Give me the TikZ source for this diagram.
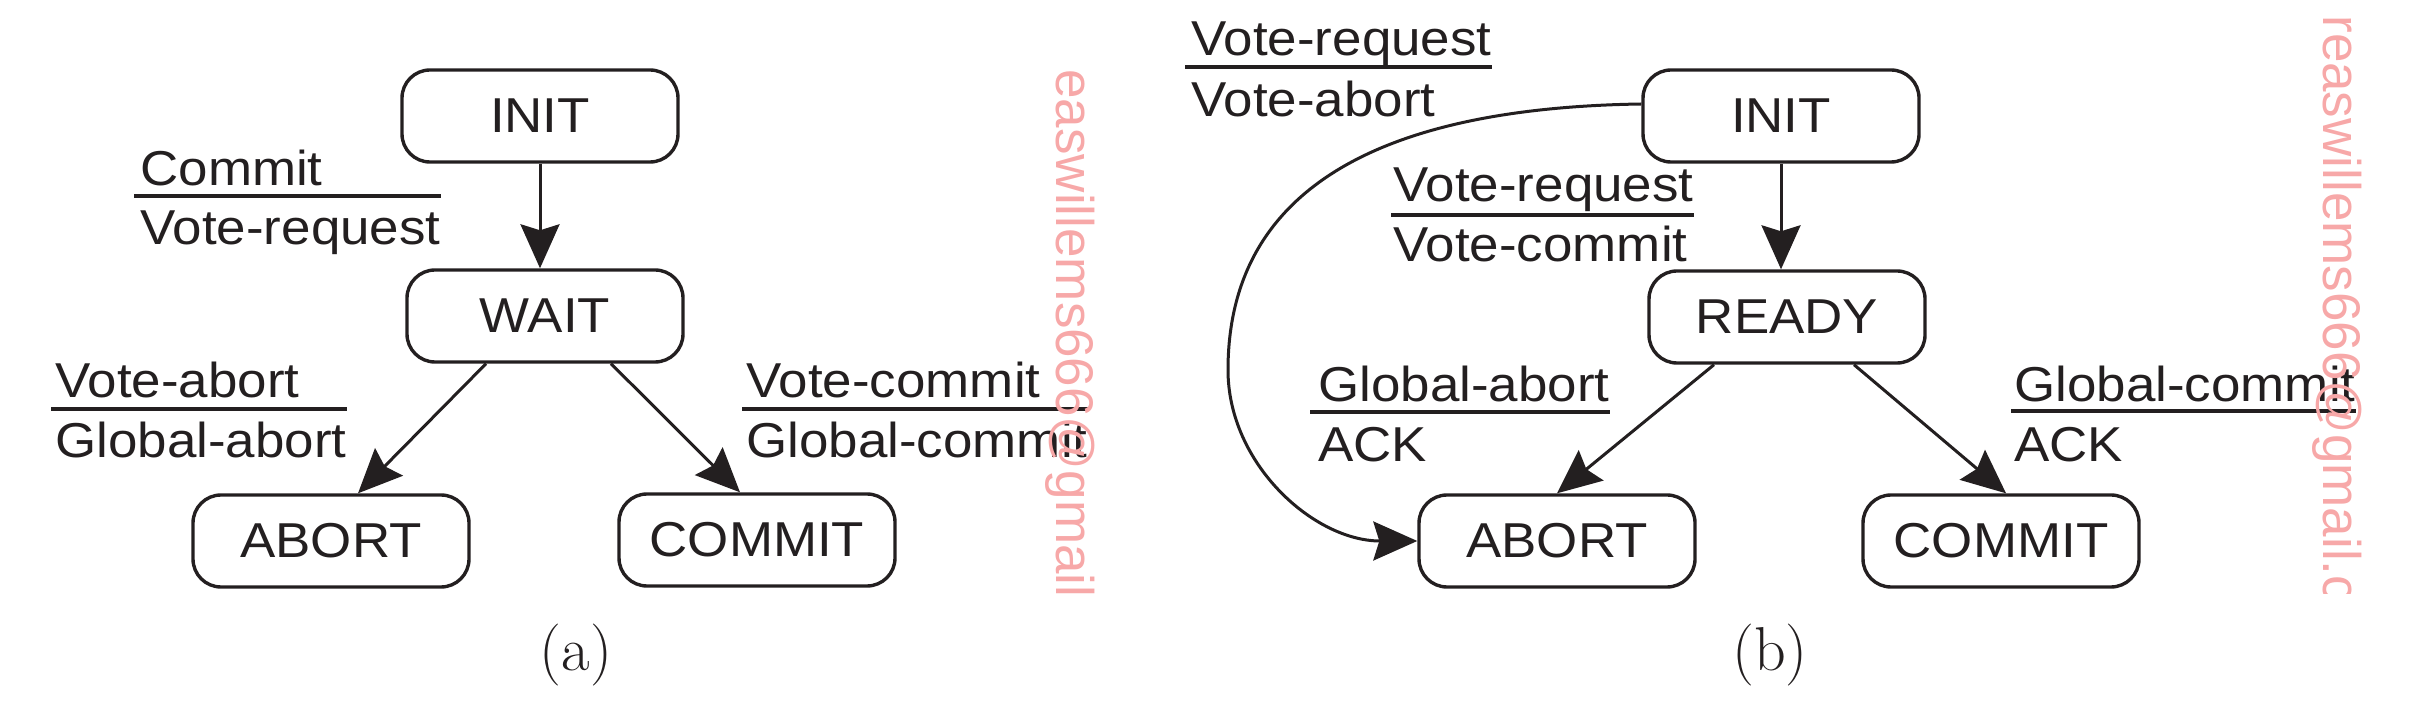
\documentclass[tikz,border=0pt]{standalone}
\usepackage{fontspec}
\newfontfamily\sansf{Liberation Sans}[FakeStretch=1.08]
\newfontfamily\wmfont{Liberation Sans}
\usetikzlibrary{arrows.meta,calc}
\definecolor{ink}{RGB}{35,31,32}
\definecolor{wmpink}{RGB}{247,168,168}
\tikzset{
  state/.style={draw=ink, text=ink, line width=1.7pt, rounded corners=14pt,
    minimum width=138pt, minimum height=46pt, inner sep=0pt,
    font=\sansf\fontsize{24.5}{28}\selectfont},
  lbl/.style={inner sep=0pt, anchor=base west, text=ink,
    font=\sansf\fontsize{24.5}{28}\selectfont},
  fracline/.style={draw=ink, line width=1.7pt},
  conn/.style={draw=ink, line width=1.5pt,
    -{Stealth[length=22pt,width=19.5pt,inset=3pt]}},
  wm/.style={inner sep=0pt, text=wmpink, rotate=-90, anchor=west,
    font=\wmfont\fontsize{26.5}{30}\selectfont},
  capt/.style={inner sep=0pt, text=ink, font=\fontsize{31}{36}\selectfont}
}
\begin{document}
\begin{tikzpicture}[x=0.5pt,y=-0.5pt]
\useasboundingbox (0,0) rectangle (2412,704);

% ---------- panel (a) ----------
\node[state] (inita) at (540,116) {INIT};
\node[state] (waita) at (545,316) {WAIT};
\node[state] (aborta) at (331,541) {ABORT};
\node[state] (commita) at (757,540) {COMMIT};

\draw[conn] (inita.south) -- (inita.south |- waita.north);
\draw[conn] ($(waita.south)+(-59,0)$) -- ($(aborta.north)+(27,0)$);
\draw[conn] ($(waita.south)+(66,0)$) -- ($(commita.north)+(-17,0)$);

\node[lbl] (l1t) at (140,186) {Commit};
\node[lbl] (l1b) at (140,245) {Vote-request};
\coordinate (l1r) at (134,196);
\draw[fracline] (l1r) -- (l1r -| l1b.east);

\node[lbl] (l2t) at (55,398) {Vote-abort};
\node[lbl] (l2b) at (55,458) {Global-abort};
\coordinate (l2r) at (51,409);
\draw[fracline] (l2r) -- (l2r -| l2b.east);

\node[lbl] (l3t) at (746,398) {Vote-commit};
\node[lbl] (l3b) at (746,458) {Global-commit};
\coordinate (l3r) at (742,409);
\draw[fracline] (l3r) -- (l3r -| l3b.east);

\node[capt] (capa) at (576,655) {(a)};
\node[wm] (wma) at (1070,69) {easwillems666@gmail};

% ---------- panel (b) ----------
\node[state] (initb) at (1781,116) {INIT};
\node[state] (readyb) at (1787,317) {READY};
\node[state] (abortb) at (1557,541) {ABORT};
\node[state] (commitb) at (2001,541) {COMMIT};

\draw[conn] (initb.south) -- (initb.south |- readyb.north);
\draw[conn] ($(readyb.south)+(-73,0)$) -- (abortb.north);
\draw[conn] ($(readyb.south)+(67,0)$) -- ($(commitb.north)+(5,0)$);
\coordinate (bend) at (1228,370);
\draw[conn] ($(initb.west)+(0,-12)$) .. controls (1370,108) and (1228,195) .. (bend)
  .. controls (1228,464) and (1314,541) .. (abortb.west);

\node[lbl] (l4t) at (1191,56) {Vote-request};
\node[lbl] (l4b) at (1191,117) {Vote-abort};
\coordinate (l4r) at (1185,67);
\draw[fracline] (l4r) -- (l4r -| l4t.east);

\node[lbl] (l5t) at (1393,202) {Vote-request};
\node[lbl] (l5b) at (1393,262) {Vote-commit};
\coordinate (l5r) at (1391,215);
\draw[fracline] (l5r) -- (l5r -| l5t.east);

\node[lbl] (l6t) at (1318,402) {Global-abort};
\node[lbl] (l6b) at (1318,462) {ACK};
\coordinate (l6r) at (1310,412);
\draw[fracline] (l6r) -- (l6r -| l6t.east);

\node[lbl] (l7t) at (2014,402) {Global-commit};
\node[lbl] (l7b) at (2014,462) {ACK};
\coordinate (l7r) at (2011,411);
\draw[fracline] (l7r) -- (l7r -| l7t.east);

\node[capt] (capb) at (1770,655) {(b)};
\begin{scope}
  \clip (2250,0) rectangle (2412,594);
  \node[wm] (wmb) at (2337,15) {reaswillems666@gmail.com};
\end{scope}
\end{tikzpicture}
\end{document}
